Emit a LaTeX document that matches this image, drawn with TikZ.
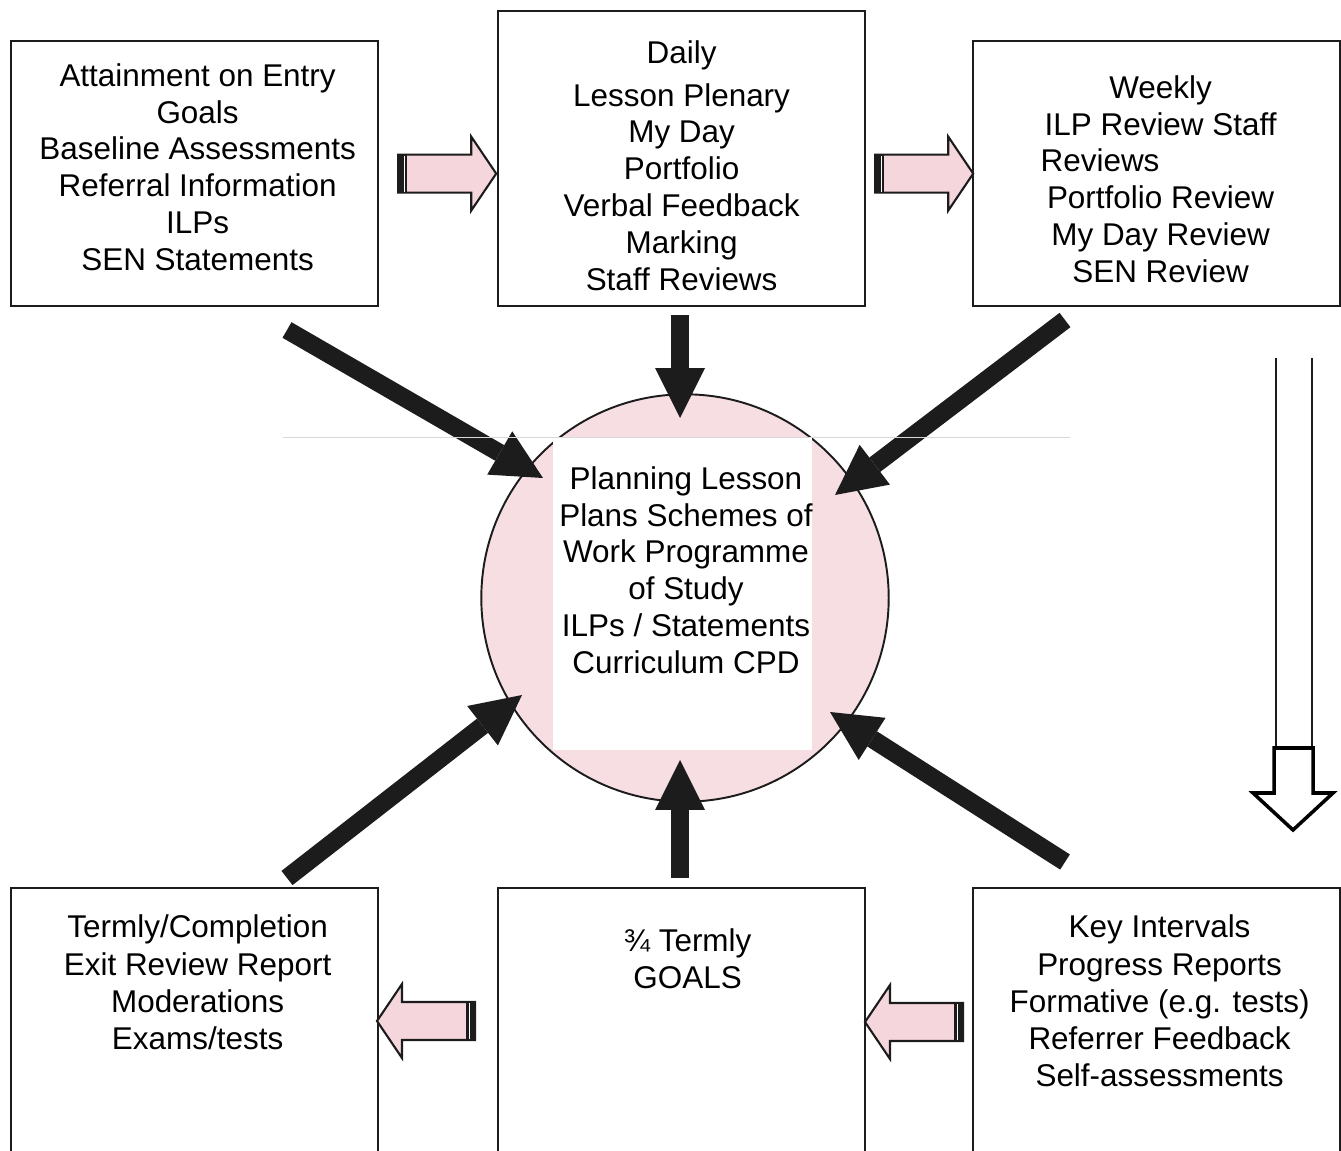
\documentclass[tikz,border=0pt]{standalone}
\usepackage{fontspec}
\setmainfont{Liberation Sans}
\usetikzlibrary{calc,arrows.meta}

\definecolor{circlepink}{RGB}{246,222,227}
\definecolor{arrowpink}{RGB}{245,214,221}
\definecolor{inkblack}{RGB}{28,28,28}

\tikzset{
  stage/.style={draw=inkblack, line width=1.3pt, rectangle, inner sep=0pt,
    anchor=north west, minimum width=7.34cm},
  stagetext/.style={align=center, inner sep=0pt, anchor=north,
    font=\fontsize{17.9}{21}\selectfont},
  bigarrow/.style={draw=inkblack, line width=0.36cm,
    -{Triangle[length=1.0cm,width=1.0cm,line width=0pt]}},
  blockarrow/.pic={
    \filldraw[fill=arrowpink, draw=inkblack, line width=1.2pt, line join=miter]
      (0,-19) -- (73,-19) -- (73,-37) -- (98,0) -- (73,37) -- (73,19) -- (0,19) -- cycle;
    \fill[inkblack] (0,-19) rectangle (9,19);
    \draw[white, line width=0.5pt] (6,-18) -- (6,18);
  }
}

\begin{document}
\begin{tikzpicture}[x=0.02cm,y=-0.02cm]
    \clip (0,0) rectangle (1341,1151);

    % top row of boxes
    \node[stage, minimum height=5.3cm] (entry) at (10,40) {};
    \node[stage, minimum height=5.9cm] (daily) at (497,10) {};
    \node[stage, minimum height=5.3cm] (weekly) at (972,40) {};
    % bottom row, cut off by the page edge
    \node[stage, minimum height=6cm] (termly) at (10,887) {};
    \node[stage, minimum height=6cm] (goals) at (497,887) {};
    \node[stage, minimum height=6cm] (keyint) at (972,887) {};

    \node[stagetext] (entrytxt) at ($(entry.north)+(3,23)$)
      {Attainment on Entry\\Goals\\Baseline Assessments\\Referral Information\\ILPs\\SEN Statements};
    \node[stagetext] (dailytxt) at ($(daily.north)+(0,30)$)
      {Daily\\[3.4pt]Lesson Plenary\\My Day\\Portfolio\\Verbal Feedback\\Marking\\Staff Reviews};
    \node[stagetext] (weeklytxt) at ($(weekly.north)+(4,35)$)
      {Weekly\\ILP Review Staff\\\makebox[4.8cm][l]{Reviews}\\Portfolio Review\\My Day Review\\SEN Review};
    \node[stagetext] (termlytxt) at ($(termly.north)+(3,27)$)
      {Termly/Completion\\[1pt]Exit Review Report\\Moderations\\Exams/tests};
    \node[stagetext] (goalstxt) at ($(goals.north)+(6,41)$)
      {¾ Termly\\GOALS};
    \node[stagetext] (keyinttxt) at ($(keyint.north)+(3,27)$)
      {Key Intervals\\[1pt]Progress Reports\\Formative (e.g. tests)\\Referrer Feedback\\Self-assessments};

    % planning circle in the middle
    \node[circle, draw=inkblack, line width=1.1pt, fill=circlepink,
      minimum size=8.15cm, inner sep=0pt] (plan) at (685,598) {};
    \fill[white] (553,437) rectangle (812,750);
    \node[stagetext] (plantxt) at ($(plan.center)+(1,-132)$)
      {Planning Lesson\\Plans Schemes of\\Work Programme\\of Study\\ILPs / Statements\\Curriculum CPD};

    % hollow arrows between the boxes
    \pic at ($(entry.east)+(19,0)$) {blockarrow};
    \pic at ($(daily.east |- weekly.east)+(9,0)$) {blockarrow};
    \pic[xscale=-1] at (475,1021) {blockarrow};
    \pic[xscale=-1] at (963,1022) {blockarrow};

    % feeding arrows into the circle
    \coordinate (entryout) at (287,330);
    \coordinate (dailyout) at (680,315);
    \coordinate (weeklyout) at (1065,320);
    \coordinate (termlyout) at (287,878);
    \coordinate (goalsout) at (680,878);
    \coordinate (keyintout) at (1065,862);
    \draw[bigarrow] (entryout) -- (543,478);
    \draw[bigarrow] (dailyout) -- (680,418);
    \draw[bigarrow] (weeklyout) -- (835,495);
    \draw[bigarrow] (termlyout) -- (522,695);
    \draw[bigarrow] (goalsout) -- (680,760);
    \draw[bigarrow] (keyintout) -- (830,712);

    % long downward arrow on the right
    \coordinate (flowtop) at (1294,358);
    \draw[inkblack, line width=1.2pt] ($(flowtop)+(-18,0)$) -- ++(0,390);
    \draw[inkblack, line width=1.2pt] ($(flowtop)+(18,0)$) -- ++(0,390);
    \filldraw[fill=white, draw=black, line width=2pt, line join=miter]
      (1274,748) -- (1313,748) -- (1313,793) -- (1333,793) -- (1293,830)
      -- (1253,793) -- (1274,793) -- cycle;

    % faint scan line
    \draw[black!15, line width=0.5pt] (283,437) -- (1070,437);
\end{tikzpicture}
\end{document}
